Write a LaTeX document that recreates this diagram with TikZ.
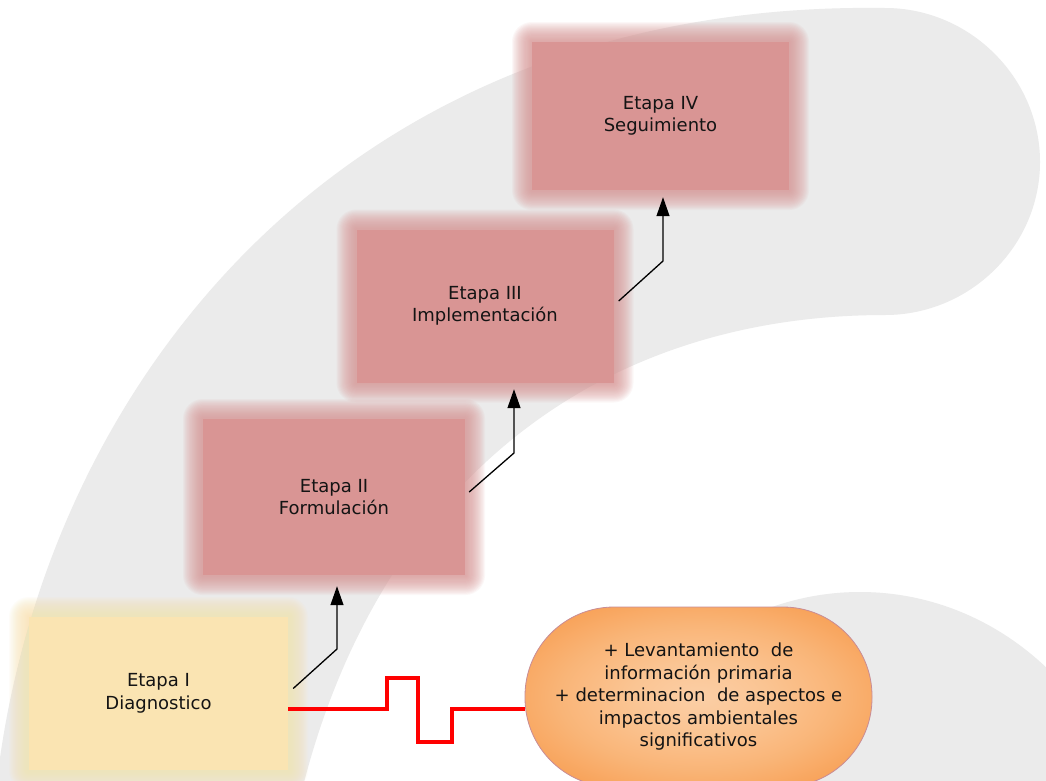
\documentclass[tikz,border=0pt]{standalone}
\usepackage{fontspec}
\setmainfont{DejaVu Sans}
\usetikzlibrary{arrows.meta,calc}
\definecolor{band}{RGB}{235,235,235}
\definecolor{rose}{RGB}{217,149,148}
\definecolor{sand}{RGB}{250,228,178}
\definecolor{orangeA}{RGB}{247,150,70}
\definecolor{orangeLine}{RGB}{200,140,150}
\definecolor{ink}{RGB}{20,20,20}
\pgfdeclareradialshading{oglow}{\pgfpoint{0bp}{0bp}}{rgb(0bp)=(0.985,0.810,0.650); rgb(10bp)=(0.982,0.770,0.575); rgb(20bp)=(0.978,0.710,0.470); rgb(30bp)=(0.972,0.630,0.340); rgb(38bp)=(0.969,0.588,0.275); rgb(50bp)=(0.969,0.588,0.275)}
\pgfdeclarelayer{bg}
\pgfdeclarelayer{glow}
\pgfsetlayers{bg,glow,main}
\newcommand\stagefont{\fontsize{18}{22.5}\selectfont}
\newcommand\softedge[2]{%
  \begin{pgfonlayer}{glow}
  \foreach \i in {1,...,18}{%
    \pgfmathsetmacro\rr{1.1*\i}
    \fill[#2, opacity=0.075, rounded corners=\rr pt]
      ([shift={(-\rr,-\rr)}]#1.north west) rectangle ([shift={(\rr,\rr)}]#1.south east);
  }
  \end{pgfonlayer}}
\tikzset{
  stage/.style={rectangle, fill=rose, inner sep=0pt, align=center, font=\stagefont, text=ink},
  arr/.style={draw=black, line width=1.3pt, -{Triangle[length=19pt,width=13pt]}},
  wire/.style={draw=red, line width=4.2pt, miter limit=10},
  pill/.style={draw=orangeLine, line width=0.8pt, shading=oglow, rounded corners=89pt,
    minimum width=347pt, minimum height=180pt, inner sep=0pt, align=center, font=\stagefont, text=ink}
}
\begin{document}
\begin{tikzpicture}[x=1pt,y=-1pt]
\useasboundingbox (0,0) rectangle (1046,780);
\begin{pgfonlayer}{bg}
  \fill[white] (0,0) rectangle (1046,780);
  \begin{scope}
    \clip (0,0) rectangle (1046,780);
    \fill[band] (-4,790) .. controls (38,400) and (330,0) .. (885,8)
      .. controls (970,8) and (1040,78) .. (1040,162)
      .. controls (1040,246) and (970,315) .. (885,315)
      .. controls (600,315) and (380,480) .. (302,790) -- cycle;
    \fill[band] (860,890) ellipse [x radius=280, y radius=298];
  \end{scope}
\end{pgfonlayer}

\node[stage, minimum width=257pt, minimum height=148pt] (b4) at (660.5,116) {Etapa IV\\Seguimiento};
\node[stage, minimum width=257pt, minimum height=153pt] (b3) at (485,306) {Etapa III\\Implementación};
\node[stage, minimum width=262pt, minimum height=156pt] (b2) at (334,497) {Etapa II\\Formulación};
\node[stage, fill=sand, minimum width=259pt, minimum height=153pt] (b1) at (158.5,693.5) {Etapa I\\Diagnostico};
\softedge{b4}{rose}
\softedge{b3}{rose}
\softedge{b2}{rose}
\softedge{b1}{sand}

\node[pill] (o) at (698.5,697) {+ Levantamiento\ \ de\\información primaria\\+ determinacion\ \ de aspectos e\\impactos ambientales\\significativos};

\coordinate (k1) at (337,649);
\coordinate (k2) at (514,453);
\coordinate (k3) at (663,261);
\draw[arr] ([shift={(5,-5)}]b1.east) -- (k1) -- ([yshift=-11pt]k1 |- b2.south);
\draw[arr] ([shift={(4,-5)}]b2.east) -- (k2) -- ([yshift=-6.5pt]k2 |- b3.south);
\draw[arr] ([shift={(5,-5)}]b3.east) -- (k3) -- ([yshift=-7pt]k3 |- b4.south);

\draw[wire] ([yshift=-15.5pt]b1.east) -- ++(99,0) -- ++(0,-31) -- ++(31,0) -- ++(0,64)
  -- ++(34,0) -- ++(0,-33) -- ([yshift=-12pt]o.west);
\end{tikzpicture}
\end{document}
